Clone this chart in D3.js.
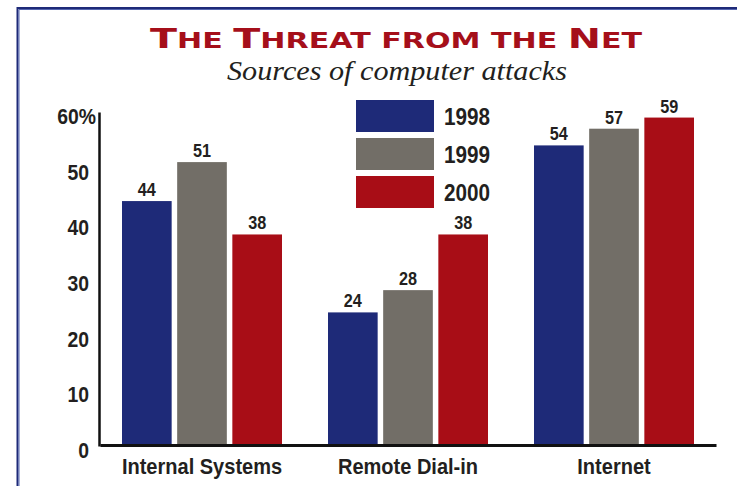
<!DOCTYPE html>
<html>
<head>
<meta charset="utf-8">
<script src="https://cdn.jsdelivr.net/npm/d3@7"></script>
<style>
  html, body { margin: 0; padding: 0; background: #ffffff; }
  svg { display: block; }
  .cond { font-family: 'Liberation Sans', Arial, sans-serif; font-weight: bold; fill: #231f20; }
</style>
</head>
<body>
<svg id="chart" width="737" height="486"></svg>
<script>
// Attack sources, percent of respondents
const categories = ["Internal Systems", "Remote Dial-in", "Internet"];
const years = ["1998", "1999", "2000"];
const values1998 = [44, 24, 54];
const values1999 = [51, 28, 57];
const values2000 = [38, 38, 59];
const yTicks = [0, 10, 20, 30, 40, 50, 60];
const yTickLabels = ["0", "10", "20", "30", "40", "50", "60%"];
const yearColors = ["#1e2a78", "#726e67", "#a80d16"];

const series = [values1998, values1999, values2000];

const svg = d3.select("#chart");

// Squeeze bold sans text horizontally to a condensed look
function condense(sel, factor) {
  sel.each(function () {
    const w = this.getComputedTextLength();
    d3.select(this).attr("textLength", w * factor).attr("lengthAdjust", "spacingAndGlyphs");
  });
}

// Double-line frame (dark outer stroke, lighter inner stroke)
svg.append("path")
  .attr("d", "M17.5,500V8H760")
  .attr("fill", "none").attr("stroke", "#1e2a78").attr("stroke-width", 2);
svg.append("path")
  .attr("d", "M19,500V9.5H760")
  .attr("fill", "none").attr("stroke", "#5566b0").attr("stroke-width", 1);

// Title with small-caps styling
const title = svg.append("text")
  .attr("x", 396).attr("y", 48)
  .attr("text-anchor", "middle")
  .attr("fill", "#a50f1a")
  .style("font-family", "'DejaVu Sans', sans-serif")
  .style("font-weight", "bold")
  .attr("textLength", 492)
  .attr("lengthAdjust", "spacingAndGlyphs");
const titleParts = [
  ["T", 27], ["HE ", 20.5], ["T", 27], ["HREAT FROM THE ", 20.5], ["N", 27], ["ET", 20.5]
];
titleParts.forEach(([t, s]) => title.append("tspan").text(t).style("font-size", s + "px"));

svg.append("text")
  .attr("x", 397).attr("y", 80)
  .attr("text-anchor", "middle")
  .attr("fill", "#231f20")
  .style("font-family", "'Liberation Serif', 'DejaVu Serif', serif")
  .style("font-style", "italic")
  .style("font-size", "28px")
  .attr("textLength", 340)
  .attr("lengthAdjust", "spacingAndGlyphs")
  .text("Sources of computer attacks");

// Scales
const x0 = d3.scaleBand()
  .domain(categories)
  .range([100, 716])
  .paddingInner(46 / 206)
  .paddingOuter(22 / 206);

const x1 = d3.scaleBand()
  .domain(years)
  .range([0, x0.bandwidth()])
  .paddingInner(0.1);

const y = d3.scaleLinear().domain([0, 60]).range([446, 112]);

// Bars
const groups = svg.append("g").selectAll("g")
  .data(categories)
  .join("g")
  .attr("transform", d => `translate(${x0(d)},0)`);

groups.selectAll("rect")
  .data((d, i) => years.map((yr, k) => ({ yr, k, v: series[k][i] })))
  .join("rect")
  .attr("x", d => x1(d.yr))
  .attr("y", d => y(d.v))
  .attr("width", x1.bandwidth())
  .attr("height", d => y(0) - y(d.v))
  .attr("fill", d => yearColors[d.k]);

groups.selectAll("text")
  .data((d, i) => years.map((yr, k) => ({ yr, k, v: series[k][i] })))
  .join("text")
  .attr("class", "cond")
  .attr("x", d => x1(d.yr) + x1.bandwidth() / 2)
  .attr("y", d => y(d.v) - 5)
  .attr("text-anchor", "middle")
  .style("font-size", "18px")
  .text(d => d.v)
  .call(condense, 0.9);

// Y axis; the top tick carries a percent sign
const yAxis = svg.append("g")
  .attr("transform", "translate(99,0)")
  .call(d3.axisLeft(y).tickValues(yTicks).tickSize(0).tickSizeOuter(0).tickPadding(10)
    .tickFormat((d, i) => yTickLabels[i]));
yAxis.select(".domain").attr("stroke", "#111").attr("stroke-width", 2.5);
yAxis.selectAll(".tick text")
  .attr("class", "cond")
  .attr("dy", "0.52em")
  .style("font-size", "22px");
yAxis.selectAll(".tick").filter(d => d === 60).select("text").attr("x", -3);
yAxis.selectAll(".tick text").call(condense, 0.88);

// X axis
const xAxis = svg.append("g")
  .attr("transform", "translate(0,445)")
  .call(d3.axisBottom(x0).tickSize(0).tickSizeOuter(0).tickPadding(13));
xAxis.select(".domain").attr("stroke", "#111").attr("stroke-width", 3);
xAxis.selectAll(".tick text")
  .attr("class", "cond")
  .style("font-size", "22px")
  .call(condense, 0.91);

// Legend
const legend = svg.append("g");
years.forEach((yr, k) => {
  const top = 100 + k * 38;
  legend.append("rect")
    .attr("x", 356).attr("y", top)
    .attr("width", 78).attr("height", 32)
    .attr("fill", yearColors[k]);
  legend.append("text")
    .attr("class", "cond")
    .attr("x", 444).attr("y", top + 25)
    .style("font-size", "23px")
    .text(yr)
    .call(condense, 0.9);
});
</script>
</body>
</html>
